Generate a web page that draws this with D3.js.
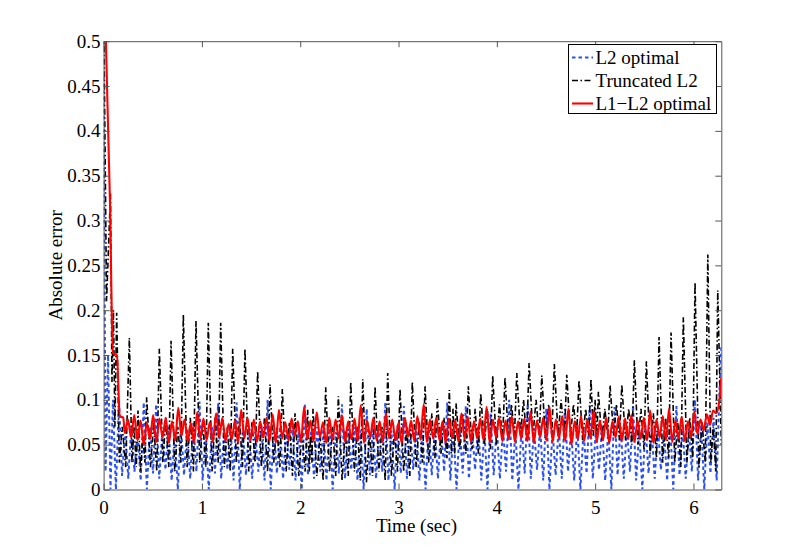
<!DOCTYPE html>
<html>
<head>
<meta charset="utf-8">
<script src="https://cdn.jsdelivr.net/npm/d3@7"></script>
<style>
  body { margin: 0; background: #fff; }
  svg text { font-family: "Liberation Serif", "Times New Roman", serif; }
</style>
</head>
<body>
<svg id="chart" width="797" height="550"></svg>
<script>
// ---- data ----
var xTicks = [0, 1, 2, 3, 4, 5, 6];
var yTicks = [0, 0.05, 0.1, 0.15, 0.2, 0.25, 0.3, 0.35, 0.4, 0.45, 0.5];
var yTickLabels = ["0", "0.05", "0.1", "0.15", "0.2", "0.25", "0.3", "0.35", "0.4", "0.45", "0.5"];
var seriesNames = ["L2 optimal", "Truncated L2", "L1\u2212L2 optimal"];
var tEnd = 6.2832;

// L2 optimal (blue dotted): start, then samples every 0.0315 s (low, high, low, high ...)
var blueHeadT = [0, 0.02, 0.045, 0.07, 0.095];
var blueHeadV = [0.46, 0.02, 0.15, 0.0, 0.1];
var blueT0 = 0.125, blueDt = 0.0315;
var blueVals = [
  0,0.1, 0.015,0.068, 0.012,0.072, 0.02,0.065, 0.01,0.097, 0,0.07, 0.018,0.095, 0.012,0.066, 0.022,0.07, 0.01,0.064,
  0,0.072, 0.016,0.068, 0.012,0.074, 0.02,0.098, 0.01,0.066, 0,0.07, 0.018,0.096, 0.012,0.068, 0.022,0.072, 0.01,0.097,
  0,0.066, 0.016,0.07, 0.012,0.064, 0.02,0.072, 0.01,0.1, 0,0.068, 0.018,0.07, 0.012,0.066, 0.022,0.074, 0.01,0.068,
  0,0.095, 0.016,0.066, 0.012,0.07, 0.02,0.068, 0.01,0.072, 0,0.064, 0.018,0.095, 0.012,0.068, 0.022,0.07, 0.01,0.066,
  0,0.09, 0.016,0.07, 0.012,0.068, 0.02,0.097, 0.01,0.066, 0,0.072, 0.018,0.093, 0.012,0.068, 0.022,0.07, 0.01,0.066,
  0,0.072, 0.016,0.068, 0.012,0.07, 0.02,0.097, 0.01,0.066, 0,0.07, 0.018,0.093, 0.012,0.068, 0.022,0.072, 0.01,0.066,
  0,0.085, 0.016,0.07, 0.012,0.068, 0.02,0.1, 0.01,0.066, 0,0.072, 0.018,0.096, 0.012,0.068, 0.022,0.07, 0.01,0.09,
  0,0.066, 0.016,0.07, 0.012,0.09, 0.02,0.068, 0.01,0.072, 0,0.066, 0.018,0.094, 0.012,0.068, 0.022,0.07, 0.01,0.066,
  0,0.092, 0.016,0.07, 0.012,0.068, 0.02,0.094, 0.01,0.066, 0,0.072, 0.018,0.068, 0.012,0.07, 0.022,0.066, 0.01,0.072,
  0,0.093, 0.016,0.07, 0.012,0.068, 0.02,0.1, 0.01,0.072, 0,0.075, 0.018,0.08, 0.01,0.12
];
var blueTailV = 0.16;

// Truncated L2 (black dash-dot): start, then one spike per row
var blackHeadT = [0, 0.03, 0.07, 0.085, 0.1, 0.115, 0.133, 0.16, 0.19, 0.225];
var blackHeadV = [0.55, 0.21, 0.33, 0.12, 0.2, 0.07, 0.197, 0.03, 0.07, 0.025];
var blackPeakT = [0.262,0.35,0.438,0.567,0.686,0.811,0.94,1.065,1.191,1.313,1.438,1.567,1.693,1.818,1.947,2.076,2.13,
  2.259,2.388,2.514,2.636,2.761,2.89,3.015,3.14,3.27,3.395,3.517,3.585,3.71,3.836,3.958,4.083,4.203,4.328,4.457,4.585,
  4.711,4.836,4.958,5.033,5.152,5.271,5.399,5.521,5.65,5.772,5.897,6.016,6.146,6.247];
var blackPeakV = [0.169,0.088,0.103,0.157,0.166,0.195,0.188,0.186,0.186,0.157,0.157,0.132,0.117,0.112,0.085,0.089,0.09,
  0.114,0.104,0.12,0.123,0.115,0.13,0.112,0.12,0.115,0.101,0.111,0.096,0.115,0.107,0.127,0.125,0.13,0.141,0.127,0.14,
  0.128,0.122,0.123,0.109,0.116,0.117,0.144,0.143,0.17,0.175,0.192,0.231,0.262,0.222];
var blackLow1 = [0.03,0.02,0.025,0.03,0.02,0.025,0.03,0.02,0.025,0.03, 0.02,0.025,0.03,0.02,0.015,0.02,0.015,0.02,0.01,0.02,
  0.008,0.02,0.015,0.02,0.025,0.03,0.04,0.04,0.045,0.045, 0.05,0.05,0.055,0.06,0.06,0.055,0.06,0.06,0.055,0.06,
  0.055,0.06,0.055,0.05,0.04,0.03,0.03,0.03,0.025,0.03];
var blackMid = [0.07,0.06,0.075,0.08,0.07,0.08,0.075,0.08,0.07,0.08, 0.075,0.08,0.07,0.075,0.065,0.06,0.06,0.07,0.065,0.07,
  0.065,0.07,0.065,0.07,0.075,0.085,0.08,0.09,0.085,0.09, 0.09,0.095,0.095,0.1,0.1,0.095,0.1,0.095,0.09,0.1,
  0.09,0.095,0.09,0.09,0.085,0.08,0.075,0.08,0.075,0.07];
var blackLow2 = [0.025,0.03,0.02,0.025,0.03,0.02,0.025,0.03,0.02,0.025, 0.03,0.02,0.025,0.015,0.02,0.03,0.01,0.015,0.015,0.01,
  0.015,0.01,0.02,0.015,0.03,0.035,0.035,0.04,0.04,0.04, 0.045,0.055,0.06,0.055,0.06,0.06,0.055,0.06,0.06,0.06,
  0.06,0.055,0.05,0.045,0.035,0.035,0.025,0.035,0.03,0.02];
var blackTailV = 0.05;

// L1-L2 optimal (red solid): start, then samples every 0.032 s (trough, peak, ...)
var redHeadT = [0, 0.065, 0.095, 0.135, 0.165, 0.2];
var redHeadV = [0.6, 0.32, 0.152, 0.15, 0.082, 0.08];
var redT0 = 0.216, redDt = 0.032;
var redVals = [
  0.063,0.078, 0.058,0.083, 0.055,0.077, 0.05,0.074, 0.056,0.083, 0.053,0.079, 0.058,0.08, 0.052,0.076, 0.055,0.091, 0.06,0.078,
  0.054,0.074, 0.052,0.086, 0.057,0.079, 0.055,0.075, 0.053,0.085, 0.058,0.08, 0.054,0.073, 0.056,0.077, 0.052,0.089, 0.057,0.08,
  0.055,0.078, 0.053,0.076, 0.058,0.08, 0.054,0.084, 0.052,0.089, 0.057,0.075, 0.055,0.079, 0.06,0.076, 0.053,0.092, 0.056,0.077,
  0.054,0.086, 0.058,0.075, 0.052,0.08, 0.055,0.078, 0.057,0.083, 0.053,0.076, 0.056,0.079, 0.054,0.094, 0.052,0.077, 0.058,0.08,
  0.055,0.076, 0.053,0.085, 0.057,0.078, 0.055,0.074, 0.052,0.08, 0.059,0.077, 0.054,0.082, 0.056,0.095, 0.053,0.078, 0.057,0.08,
  0.055,0.076, 0.052,0.079, 0.058,0.077, 0.054,0.085, 0.056,0.081, 0.053,0.076, 0.057,0.079, 0.055,0.092, 0.052,0.078, 0.058,0.08,
  0.054,0.077, 0.056,0.082, 0.053,0.076, 0.057,0.079, 0.054,0.087, 0.052,0.077, 0.058,0.08, 0.055,0.092, 0.053,0.078, 0.057,0.081,
  0.054,0.09, 0.05,0.076, 0.056,0.082, 0.054,0.078, 0.057,0.088, 0.053,0.077, 0.055,0.08, 0.052,0.076, 0.058,0.081, 0.054,0.079,
  0.056,0.083, 0.053,0.077, 0.057,0.08, 0.055,0.088, 0.052,0.078, 0.058,0.082, 0.055,0.09, 0.053,0.077, 0.057,0.081, 0.054,0.076,
  0.058,0.087, 0.062,0.078, 0.066,0.084, 0.072,0.088, 0.085,0.1
];
var redTailV = 0.125;

// ---- build point lists ----
function gridPoints(headT, headV, t0, dt, vals, tailV) {
    var pts = headT.map(function (t, i) { return [t, headV[i]]; });
    vals.forEach(function (v, i) { pts.push([t0 + i * dt, v]); });
    pts.push([tEnd, tailV]);
    return pts;
}

var bluePts = gridPoints(blueHeadT, blueHeadV, blueT0, blueDt, blueVals, blueTailV);
var redPts = gridPoints(redHeadT, redHeadV, redT0, redDt, redVals, redTailV);

var blackPts = blackHeadT.map(function (t, i) { return [t, blackHeadV[i]]; });
blackPeakT.forEach(function (t, i) {
    blackPts.push([t, blackPeakV[i]]);
    if (i < blackPeakT.length - 1) {
        var g = blackPeakT[i + 1] - t;
        blackPts.push([t + g * 0.3, blackLow1[i]]);
        blackPts.push([t + g * 0.55, blackMid[i]]);
        blackPts.push([t + g * 0.8, blackLow2[i]]);
    }
});
blackPts.push([tEnd, blackTailV]);

// ---- layout ----
var svg = d3.select("#chart");
var axL = 103.6, axR = 721.3, axT = 41.2, axB = 489.5;

var x = d3.scaleLinear().domain([0, tEnd]).range([axL, axR]);
var y = d3.scaleLinear().domain([0, 0.5]).range([axB, axT]);

svg.append("rect").attr("width", 797).attr("height", 550).attr("fill", "#fff");

svg.append("defs").append("clipPath").attr("id", "plotClip")
    .append("rect")
    .attr("x", axL).attr("y", axT)
    .attr("width", axR - axL).attr("height", axB - axT);

var plot = svg.append("g").attr("clip-path", "url(#plotClip)");

var line = d3.line().x(function (d) { return x(d[0]); }).y(function (d) { return y(d[1]); });
var smooth = d3.line().curve(d3.curveMonotoneX)
    .x(function (d) { return x(d[0]); }).y(function (d) { return y(d[1]); });

var styles = [
    { color: "#2a4ff2", width: 2, dash: "3.5,3" },
    { color: "#000", width: 1.6, dash: "6,2.5,1.5,2.5" },
    { color: "#f00", width: 2.1, dash: null }
];

plot.append("path").datum(bluePts)
    .attr("d", line)
    .attr("fill", "none")
    .attr("stroke", styles[0].color)
    .attr("stroke-width", styles[0].width)
    .attr("stroke-dasharray", styles[0].dash);

plot.append("path").datum(blackPts)
    .attr("d", line)
    .attr("fill", "none")
    .attr("stroke", styles[1].color)
    .attr("stroke-width", styles[1].width)
    .attr("stroke-dasharray", styles[1].dash);

plot.append("path").datum(redPts)
    .attr("d", smooth)
    .attr("fill", "none")
    .attr("stroke", styles[2].color)
    .attr("stroke-width", styles[2].width)
    .attr("stroke-linejoin", "round");

// ---- axes (ticks inside on all four sides, like matlab box on) ----
var fontSize = 19;

var xAxis = svg.append("g")
    .attr("transform", "translate(0," + axB + ")")
    .call(d3.axisBottom(x).tickValues(xTicks).tickFormat(d3.format("d"))
        .tickSizeInner(-6).tickSizeOuter(0).tickPadding(11.5));

var yAxis = svg.append("g")
    .attr("transform", "translate(" + axL + ",0)")
    .call(d3.axisLeft(y).tickValues(yTicks).tickFormat(function (d, i) { return yTickLabels[i]; })
        .tickSizeInner(-6).tickSizeOuter(0).tickPadding(3));

var xTop = svg.append("g")
    .attr("transform", "translate(0," + axT + ")")
    .call(d3.axisTop(x).tickValues(xTicks).tickFormat("").tickSizeInner(-6).tickSizeOuter(0));

var yRight = svg.append("g")
    .attr("transform", "translate(" + axR + ",0)")
    .call(d3.axisRight(y).tickValues(yTicks).tickFormat("").tickSizeInner(-6).tickSizeOuter(0));

[xAxis, yAxis, xTop, yRight].forEach(function (a) {
    a.selectAll(".domain").attr("stroke", "#555").attr("stroke-width", 1);
    a.selectAll(".tick line").attr("stroke", "#555").attr("stroke-width", 1);
    a.selectAll(".tick text")
        .attr("fill", "#000")
        .style("font-family", "'Liberation Serif', 'Times New Roman', serif")
        .style("font-size", fontSize + "px");
});

// axis titles
svg.append("text")
    .attr("x", (axL + axR) / 2 + 4)
    .attr("y", 532)
    .attr("text-anchor", "middle")
    .style("font-size", fontSize + "px")
    .text("Time (sec)");

svg.append("text")
    .attr("transform", "translate(62," + ((axT + axB) / 2) + ") rotate(-90)")
    .attr("text-anchor", "middle")
    .style("font-size", fontSize + "px")
    .text("Absolute error");

// ---- legend ----
var lg = svg.append("g");
lg.append("rect")
    .attr("x", 568.5).attr("y", 44.5)
    .attr("width", 148).attr("height", 69)
    .attr("fill", "#fff")
    .attr("stroke", "#000")
    .attr("stroke-width", 1);

var rowY = [57.5, 80.5, 103.5];
seriesNames.forEach(function (name, i) {
    var s = styles[i];
    lg.append("line")
        .attr("x1", 572).attr("x2", 593)
        .attr("y1", rowY[i]).attr("y2", rowY[i])
        .attr("stroke", s.color)
        .attr("stroke-width", s.width)
        .attr("stroke-dasharray", s.dash);
    lg.append("text")
        .attr("x", 595.5)
        .attr("y", rowY[i] + 6.5)
        .style("font-size", fontSize + "px")
        .text(name);
});
</script>
</body>
</html>
